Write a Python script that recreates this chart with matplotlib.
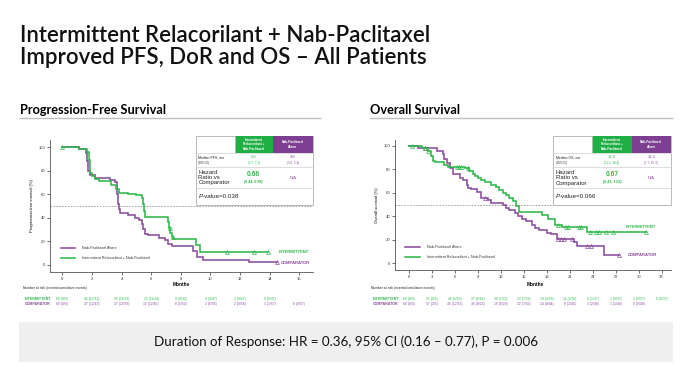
import matplotlib
matplotlib.use("Agg")
import matplotlib.pyplot as plt
from matplotlib.patches import Rectangle
from matplotlib.transforms import blended_transform_factory
import numpy as np

GREEN = "#2DB84B"
PURPLE = "#8A4C9D"
GREEN_HDR = "#1FAF45"
PURPLE_HDR = "#7D3F91"

# ---------------- Progression-free survival ----------------
pfs_int_t = [0, 1.15, 1.7, 1.8, 1.85, 1.9, 2.0, 2.2, 2.5, 3.3, 3.6, 3.8, 4.45, 5.0, 5.35, 5.45, 5.5, 5.57, 7.16, 7.22, 7.3, 7.4, 7.5, 9.05, 9.3]
pfs_int_s = [100, 98, 96, 89, 82, 78, 75, 73, 71, 68, 64, 61, 60, 59, 57, 52, 46, 41, 36, 31, 27, 24, 22, 17, 11]
pfs_int_end = 13.85
pfs_int_cens = [0, 7.25, 7.45, 11.1, 12.95, 13.85]

pfs_cmp_t = [0, 1.15, 1.6, 1.7, 1.75, 1.85, 2.2, 3.2, 3.55, 3.66, 3.72, 3.77, 3.85, 3.9, 4.45, 4.9, 5.2, 5.38, 5.45, 5.57, 5.8, 6.5, 6.9, 7.15, 7.4, 8.85, 9.1, 9.5, 12.6]
pfs_cmp_s = [100, 98, 95, 88, 80, 76, 74, 72, 70, 65, 60, 52, 47, 44, 42, 40, 38, 35, 30, 26, 25, 23, 21, 18, 16, 12, 7, 4, 2]
pfs_cmp_end = 14.5
pfs_cmp_cens = [14.5]

# ---------------- Overall survival ----------------
os_int_t = [0, 1.6, 2.4, 2.9, 3.1, 3.3, 4.6, 5.1, 7.3, 7.8, 8.3, 8.6, 9.0, 9.4, 9.9, 10.7, 11.4, 11.8, 12.3, 12.7, 13.1, 13.6, 14.0, 14.4, 17.4, 18.1, 19.0, 20.0, 23.3]
os_int_s = [100, 98, 96, 91, 87, 86, 84, 82, 81, 79, 76, 74, 73, 71, 69, 67, 65, 62, 60, 58, 56, 53, 49, 44, 41, 38, 33, 31, 27]
os_int_end = 31.0
os_int_cens = [0.3, 2.0, 2.5, 6.2, 6.5, 6.7, 7.7, 19.4, 20.5, 20.7, 22.2, 22.4, 23.7, 24.4, 24.8, 25.8, 26.6, 31.0]

os_cmp_t = [0, 1.2, 3.6, 4.4, 4.6, 4.9, 5.3, 5.7, 6.6, 7.0, 7.5, 7.7, 8.1, 8.8, 9.4, 10.3, 10.7, 12.2, 12.7, 13.1, 13.8, 14.2, 14.7, 15.3, 16.0, 16.5, 17.0, 18.0, 18.6, 19.3, 21.6, 22.0, 25.5]
os_cmp_s = [100, 98, 96, 93, 89, 85, 81, 76, 73, 71, 67, 64, 63, 61, 56, 54, 51, 50, 47, 45, 43, 40, 38, 36, 33, 30, 28, 26, 25, 21, 18, 15, 7]
os_cmp_end = 27.4
os_cmp_cens = [2.0, 9.9, 19.5, 19.9, 20.3, 21.3, 23.3, 23.8, 27.4]

# ---------------- At-risk tables ----------------
pfs_risk_months = [0, 2, 4, 6, 8, 10, 12, 14, 16]
pfs_risk_int = ["60 (0/0)", "46 (12/12)", "35 (11/23)", "22 (11/34)", "9 (9/43)", "4 (4/47)", "2 (0/47)", "0 (0/47)"]
pfs_risk_cmp = ["60 (0/0)", "47 (13/13)", "27 (20/33)", "15 (12/45)", "8 (5/50)", "2 (6/56)", "2 (0/56)", "1 (1/57)", "0 (0/57)"]

os_risk_months = [0, 3, 6, 9, 12, 15, 18, 21, 24, 27, 30, 33]
os_risk_int = ["60 (0/0)", "51 (5/5)", "46 (5/10)", "37 (6/16)", "30 (7/22)", "23 (7/29)", "19 (4/33)", "11 (3/36)", "6 (1/37)", "1 (0/37)", "1 (0/37)", "0 (0/37)"]
os_risk_cmp = ["60 (0/0)", "57 (3/3)", "45 (12/15)", "36 (8/23)", "29 (6/29)", "22 (7/36)", "14 (8/44)", "8 (2/46)", "3 (2/48)", "1 (1/49)", "0 (0/49)"]

pfs_pxticks = list(range(0, 17, 2))
os_pxticks = list(range(0, 34, 3))
y_ticks = [0, 20, 40, 60, 80, 100]

W, H = 692, 375
fig = plt.figure(figsize=(W / 100, H / 100), dpi=100)
fig.patch.set_facecolor("white")

SANS = ["Liberation Sans", "DejaVu Sans"]
LATO = ["Lato", "DejaVu Sans"]


def rect(x0, y0, x1, y1):
    return [x0 / W, 1 - y1 / H, (x1 - x0) / W, (y1 - y0) / H]


def surv_at(ts, ss, x):
    i = np.searchsorted(ts, x, side="right") - 1
    return ss[max(i, 0)]


def km(ax, ts, ss, end, cens, color):
    xs = list(ts) + [end]
    ys = list(ss) + [ss[-1]]
    ax.step(xs, ys, where="post", color=color, lw=1.15, solid_joinstyle="miter", zorder=3)
    cy = [surv_at(ts, ss, c) for c in cens]
    ax.plot(cens, cy, ls="none", marker="^", ms=2.8, mfc="none", mec=color, mew=0.5, zorder=4)


def style_axes(ax, xticks, ylabel):
    for s in ["top", "right"]:
        ax.spines[s].set_visible(False)
    for s in ["left", "bottom"]:
        ax.spines[s].set_color("#555555")
        ax.spines[s].set_linewidth(0.6)
    ax.set_xticks(xticks)
    ax.set_yticks(y_ticks)
    ax.tick_params(length=2, width=0.5, labelsize=3.0, pad=1.5, colors="#333333")
    for lab in ax.get_xticklabels() + ax.get_yticklabels():
        lab.set_family(SANS)
    ax.set_ylabel(ylabel, fontsize=3.0, family=SANS, labelpad=3)
    ax.axhline(50, color="#9a9a9a", lw=0.6, ls=(0, (2, 1.5)), zorder=1)


# ---------------- Left: PFS ----------------
axL = fig.add_axes(rect(50, 140, 312.7, 271.7))
axL.set_xlim(-0.83, 16.9)
axL.set_ylim(-5.9, 106)
style_axes(axL, pfs_pxticks, "Progression-free survival (%)")
km(axL, pfs_cmp_t, pfs_cmp_s, pfs_cmp_end, pfs_cmp_cens, PURPLE)
km(axL, pfs_int_t, pfs_int_s, pfs_int_end, pfs_int_cens, GREEN)
axL.text(14.6, 11, "INTERMITTENT", color=GREEN, fontsize=3.0, fontweight="bold", family=SANS, va="center")
axL.text(14.75, 1.8, "COMPARATOR", color=PURPLE, fontsize=3.0, fontweight="bold", family=SANS, va="center")

# ---------------- Right: OS ----------------
axR = fig.add_axes(rect(395, 140, 670.7, 270))
axR.set_xlim(-1.87, 34.2)
axR.set_ylim(-5.7, 105)
style_axes(axR, os_pxticks, "Overall survival (%)")
km(axR, os_cmp_t, os_cmp_s, os_cmp_end, os_cmp_cens, PURPLE)
km(axR, os_int_t, os_int_s, os_int_end, os_int_cens, GREEN)
axR.text(28.3, 31, "INTERMITTENT", color=GREEN, fontsize=3.0, fontweight="bold", family=SANS, va="center")
axR.text(28.6, 7, "COMPARATOR", color=PURPLE, fontsize=3.0, fontweight="bold", family=SANS, va="center")

# legends inside axes
for ax, xa, ya in [(axL, 0.04, (0.18, 0.104)), (axR, 0.037, (0.18, 0.098))]:
    ax.plot([xa, xa + 0.055], [ya[0], ya[0]], transform=ax.transAxes, color=PURPLE, lw=1.15)
    ax.plot([xa, xa + 0.055], [ya[1], ya[1]], transform=ax.transAxes, color=GREEN, lw=1.15)
    ax.text(xa + 0.08, ya[0], "Nab-Paclitaxel Alone", transform=ax.transAxes, fontsize=2.7, family=SANS, va="center", color="#333333")
    ax.text(xa + 0.08, ya[1], "Intermittent Relacorilant + Nab-Paclitaxel", transform=ax.transAxes, fontsize=2.7, family=SANS, va="center", color="#333333")

# ---------------- Overlay (pixel coordinates) ----------------
ov = fig.add_axes([0, 0, 1, 1], zorder=10)
ov.set_xlim(0, W)
ov.set_ylim(H, 0)
ov.axis("off")
ov.patch.set_alpha(0)

# Title
ov.text(20, 35, "Intermittent Relacorilant + Nab-Paclitaxel", fontsize=16, family=LATO,
        fontweight="semibold", va="center", ha="left", color="#111111")
ov.text(20, 57, "Improved PFS, DoR and OS \u2013 All Patients", fontsize=16, family=LATO,
        fontweight="semibold", va="center", ha="left", color="#111111")

# Section headings
ov.text(20, 110, "Progression-Free Survival", fontsize=9.2, family=LATO, fontweight="bold", va="center")
ov.plot([20, 320], [118, 118], color="#c0c0c0", lw=1.0)
ov.text(370, 110, "Overall Survival", fontsize=9.2, family=LATO, fontweight="bold", va="center")
ov.plot([370, 672], [118, 118], color="#c0c0c0", lw=1.0)


def info_box(xs, ys, med_label, med_int, ci_int, med_cmp, ci_cmp, hr, hr_ci, pval):
    x0, x1, x2, x3 = xs
    y0, y1, y2, y3, y4 = ys
    ov.add_patch(Rectangle((x0, y0), x3 - x0, y4 - y0, facecolor="white", edgecolor="#b0b0b0", lw=0.6))
    ov.add_patch(Rectangle((x1, y0), x2 - x1, y1 - y0, facecolor=GREEN_HDR, edgecolor="none"))
    ov.add_patch(Rectangle((x2, y0), x3 - x2, y1 - y0, facecolor=PURPLE_HDR, edgecolor="none"))
    for yy in (y1, y2, y3):
        ov.plot([x0, x3], [yy, yy], color="#cfcfcf", lw=0.5)
    ov.plot([x1, x1], [y0, y1], color="#cfcfcf", lw=0.5)
    cx1, cx2 = (x1 + x2) / 2, (x2 + x3) / 2
    ov.text(cx1, (y0 + y1) / 2, "Intermittent\nRelacorilant +\nNab-Paclitaxel", fontsize=2.3, color="white",
            ha="center", va="center", family=SANS, fontweight="bold", linespacing=1.1)
    ov.text(cx2, (y0 + y1) / 2, "Nab-Paclitaxel\nAlone", fontsize=2.3, color="white",
            ha="center", va="center", family=SANS, fontweight="bold", linespacing=1.1)
    ov.text(x0 + 2.5, y1 + 4.8, med_label, fontsize=2.5, family=SANS, va="center", color="#222222")
    ov.text(x0 + 2.5, y1 + 10.0, "(95% CI)", fontsize=2.0, family=SANS, va="center", color="#222222")
    ov.text(cx1, y1 + 4.6, med_int, fontsize=3.0, family=SANS, ha="center", va="center", color=GREEN)
    ov.text(cx1, y1 + 10.0, ci_int, fontsize=2.2, family=SANS, ha="center", va="center", color=GREEN)
    ov.text(cx2, y1 + 4.6, med_cmp, fontsize=3.0, family=SANS, ha="center", va="center", color=PURPLE)
    ov.text(cx2, y1 + 10.0, ci_cmp, fontsize=2.2, family=SANS, ha="center", va="center", color=PURPLE)
    ov.text(x0 + 2.5, (y2 + y3) / 2, "Hazard\nRatio vs\nComparator", fontsize=4.3, family=SANS, va="center",
            color="#222222", linespacing=1.05)
    ov.text(cx1, (y2 + y3) / 2 - 2.8, hr, fontsize=4.8, family=SANS, ha="center", va="center", color=GREEN,
            fontweight="bold")
    ov.text(cx1, (y2 + y3) / 2 + 4.0, hr_ci, fontsize=2.6, family=SANS, ha="center", va="center", color=GREEN,
            fontweight="bold")
    ov.text(cx2, (y2 + y3) / 2, "N/A", fontsize=3.0, family=SANS, ha="center", va="center", color=PURPLE)
    tp = ov.text(x0 + 2.5, (y3 + y4) / 2, "P", fontsize=4.5, family=SANS, style="italic", va="center",
                 color="#222222")
    ov.annotate("-value=" + pval, xy=(1, 0.5), xycoords=tp, va="center", ha="left", fontsize=4.5,
                family=SANS, color="#222222")


info_box((196, 234.5, 273, 312.5), (136, 152.7, 167, 188.3, 204.5), "Median PFS, mo",
         "5.6", "(3.7, 7.2)", "3.8", "(3.6, 5.4)", "0.66", "(0.44, 0.98)", "0.038")
info_box((553.3, 592.3, 631.7, 670.7), (136, 152.7, 167.3, 188.3, 204.5), "Median OS, mo",
         "13.9", "(11.1, 18.4)", "12.2", "(7.7, 15.3)", "0.67", "(0.43, 1.03)", "0.066")

# Months labels + at-risk tables
for ax, months, r_int, r_cmp, lx, mx in [
    (axL, pfs_risk_months, pfs_risk_int, pfs_risk_cmp, 23, 8),
    (axR, os_risk_months, os_risk_int, os_risk_cmp, 371, 16.5),
]:
    tr = blended_transform_factory(ax.transData, ov.transData)
    ov.text(mx, 284.5, "Months", transform=tr, fontsize=3.4, family=SANS, fontweight="bold", ha="center", va="center")
    ov.text(lx, 287.5, "Number at risk (events/cumulative events)", fontsize=2.4, family=SANS, va="center",
            color="#222222")
    ov.text(lx + 1.5, 298.8, "INTERMITTENT", fontsize=2.6, family=SANS, fontweight="bold", color=GREEN, va="center")
    ov.text(lx + 1.5, 304.3, "COMPARATOR", fontsize=2.6, family=SANS, fontweight="bold", color=PURPLE, va="center")
    for m, v in zip(months, r_int):
        ov.text(m, 298.8, v, transform=tr, fontsize=2.4, family=SANS, color=GREEN, ha="center", va="center")
    for m, v in zip(months, r_cmp):
        ov.text(m, 304.3, v, transform=tr, fontsize=2.4, family=SANS, color=PURPLE, ha="center", va="center")

# Bottom banner
ov.add_patch(Rectangle((19, 322), 654, 40, facecolor="#efefef", edgecolor="none"))
ov.text(346, 342, "Duration of Response: HR = 0.36, 95% CI (0.16 \u2013 0.77), P = 0.006", fontsize=9.6,
        family=LATO, ha="center", va="center", color="#111111")

fig.savefig("out.png", dpi=100, facecolor="white")
